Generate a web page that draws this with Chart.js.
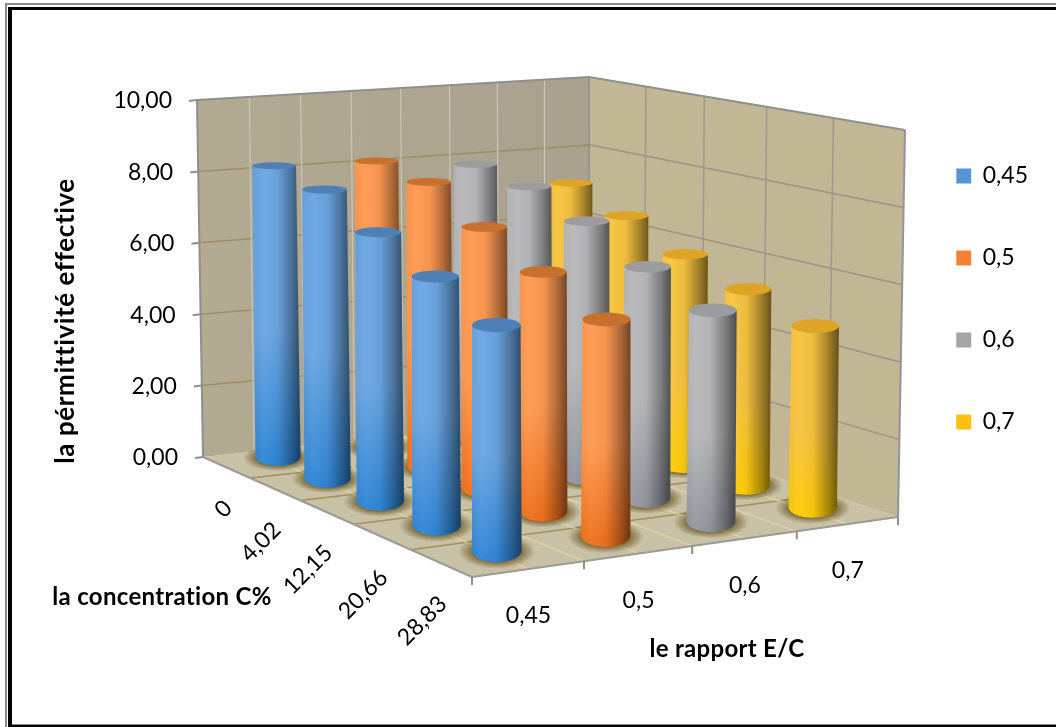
<!DOCTYPE html>
<html>
<head>
<meta charset="utf-8">
<title>pérmittivité effective</title>
<script src="https://cdn.jsdelivr.net/npm/chart.js@4"></script>
<style>
  body { margin: 0; background: #fff; }
  #wrap { position: absolute; left: 0; top: 0; width: 1056px; height: 727px; }
</style>
</head>
<body>
<div id="wrap"><canvas id="myChart" width="1056" height="727"></canvas></div>
<script>
const concentrations = ['0', '4,02', '12,15', '20,66', '28,83'];
const ratios = ['0,45', '0,5', '0,6', '0,7'];
const yTicks = ['0,00', '2,00', '4,00', '6,00', '8,00', '10,00'];

const ratio045 = [8.17, 7.92, 7.2, 6.5, 5.76];
const ratio05 = [8.1, 7.9, 7.08, 6.33, 5.58];
const ratio06 = [7.81, 7.55, 6.98, 6.18, 5.5];
const ratio07 = [7.07, 6.5, 5.82, 5.3, 4.78];

// body colours per series: upper part, lower part, top cap
const looks = [
  { up: '#6ba6e2', low: '#2f86d6', cap: '#4c80b6', legend: '#5595d6' },
  { up: '#ff9a52', low: '#f0701c', cap: '#c8702e', legend: '#f58232' },
  { up: '#b8b8ba', low: '#92969e', cap: '#9c9c9e', legend: '#a5a5a5' },
  { up: '#f8c440', low: '#ffcd05', cap: '#dfa426', legend: '#fdc010' }
];

// corners of the 3D box in canvas pixels
const floorBox = { left: [203, 457], back: [590, 417], right: [898, 517], front: [472, 577] };
const topBox = { left: [197, 100], back: [589, 77], right: [905, 130], front: [471, 175] };
const heights = {
  left: floorBox.left[1] - topBox.left[1],
  back: floorBox.back[1] - topBox.back[1],
  right: floorBox.right[1] - topBox.right[1],
  front: floorBox.front[1] - topBox.front[1]
};
// upright edges lean very slightly towards this point far below the chart
const vanish = [538, 20400];
// foreshortening along the E/C and C% directions
const skewU = 1.07;
const skewW = 0.85;

function warp(t, r) { return t * r / (t * r + 1 - t); }

// floor position, u along E/C (0 at the concentration axis), w along C% (0 at the back)
function onFloor(u, w) {
  const s = warp(u, skewU), t = warp(w, skewW);
  const { left, back, right, front } = floorBox;
  return [0, 1].map(k => left[k] * (1 - s) * (1 - t) + back[k] * s * (1 - t) +
    right[k] * s * t + front[k] * (1 - s) * t);
}

// point straight above a floor position, f = 0 on the floor, f = 1 at the top of the box
function above(u, w, f) {
  const p = onFloor(u, w);
  const s = warp(u, skewU), t = warp(w, skewW);
  const h = heights.left * (1 - s) * (1 - t) + heights.back * s * (1 - t) +
    heights.right * s * t + heights.front * (1 - s) * t;
  const dy = h * f;
  return [p[0] + dy * (p[0] - vanish[0]) / (vanish[1] - p[1]), p[1] - dy];
}

function line(ctx, p, q, color, width) {
  ctx.strokeStyle = color;
  ctx.lineWidth = width;
  ctx.beginPath();
  ctx.moveTo(p[0], p[1]);
  ctx.lineTo(q[0], q[1]);
  ctx.stroke();
}

function poly(ctx, pts, fill) {
  ctx.fillStyle = fill;
  ctx.beginPath();
  pts.forEach((p, i) => i ? ctx.lineTo(p[0], p[1]) : ctx.moveTo(p[0], p[1]));
  ctx.closePath();
  ctx.fill();
}

function heightFrac(y, v) {
  return (y.bottom - y.getPixelForValue(v)) / (y.bottom - y.top);
}

function drawWalls(chart) {
  const ctx = chart.ctx, y = chart.scales.y;
  const fl = floorBox, tp = topBox;

  const g = ctx.createLinearGradient(fl.left[0], 0, fl.back[0], 0);
  g.addColorStop(0, '#b3aa92');
  g.addColorStop(1, '#a9a18f');
  poly(ctx, [tp.left, tp.back, fl.back, fl.left], g);
  poly(ctx, [tp.back, tp.right, fl.right, fl.back], '#c1b794');
  poly(ctx, [fl.left, fl.back, fl.right, fl.front], '#c9c1a6');

  // wall gridlines
  y.ticks.forEach(t => {
    const f = heightFrac(y, t.value);
    if (f > 0 && f < 1) {
      line(ctx, above(0, 0, f), above(1, 0, f), '#a08c62', 1.5);
      line(ctx, above(1, 0, f), above(1, 1, f), '#a0908a', 1.5);
    }
  });
  for (let k = 1; k < 8; k++) {
    line(ctx, above(k / 8, 0, 0), above(k / 8, 0, 1), '#cbc6ba', 1.2);
  }
  for (let k = 1; k < 5; k++) {
    line(ctx, above(1, k / 5, 0), above(1, k / 5, 1), '#a3968c', 1.5);
  }

  // floor gridlines
  for (let k = 1; k < 5; k++) {
    line(ctx, onFloor(0, k / 5), onFloor(1, k / 5), '#a58f58', 1.5);
  }
  for (let k = 1; k < 8; k++) {
    line(ctx, onFloor(k / 8, 0), onFloor(k / 8, 1), '#e6d69c', 1.2);
  }

  // box edges
  line(ctx, tp.left, tp.back, '#8f8f8c', 2);
  line(ctx, tp.back, tp.right, '#8f8f8c', 2);
  line(ctx, tp.right, fl.right, '#93939a', 2);
  line(ctx, tp.left, fl.left, '#8f8f8c', 2);
  line(ctx, tp.back, fl.back, '#8f8f8c', 1.5);
  line(ctx, fl.left, fl.front, '#9a9a98', 2);
  line(ctx, fl.front, fl.right, '#9a9a98', 2);

  // axis tick marks
  y.ticks.forEach(t => {
    const p = above(0, 0, heightFrac(y, t.value));
    line(ctx, [p[0] - 8, p[1] + 1], p, '#8f8f8c', 2);
  });
  for (let k = 0; k <= 4; k++) {
    const p = onFloor(k / 4, 1);
    line(ctx, p, [p[0], p[1] + 8], '#8f8f8c', 2);
  }
}

// cylinder ellipses get rounder further down the canvas
function flatten(py) { return 0.00081 * (py + 35); }

function drawCylinder(chart, seriesIdx, catIdx, value) {
  const ctx = chart.ctx, y = chart.scales.y;
  const look = looks[seriesIdx];
  const u = (seriesIdx + 0.5) / ratios.length;
  const w = (catIdx + 0.5) / concentrations.length;
  const foot = onFloor(u, w);
  const base = [foot[0], foot[1] - 5];
  const f = heightFrac(y, value);
  const top = above(u, w, f);
  const cap = [top[0], top[1] - 3];
  const rb = 22.4 + 2.8 * w - 0.8 * u;
  const rc = rb * (1 - 0.04 * f);
  const ryb = rb * flatten(base[1]);
  const ryc = rc * flatten(cap[1]);

  // contact shadow
  ctx.save();
  ctx.translate(base[0], base[1] + 1);
  ctx.scale(1, ryb / rb * 0.95);
  const sh = ctx.createRadialGradient(0, 0, rb * 0.75, 0, 0, rb * 1.55);
  sh.addColorStop(0, 'rgba(96,74,18,0.95)');
  sh.addColorStop(1, 'rgba(96,74,18,0)');
  ctx.fillStyle = sh;
  ctx.beginPath();
  ctx.arc(0, 0, rb * 1.55, 0, Math.PI * 2);
  ctx.fill();
  ctx.restore();

  // body outline
  const shape = () => {
    ctx.beginPath();
    ctx.moveTo(cap[0] - rc, cap[1]);
    ctx.lineTo(base[0] - rb, base[1]);
    ctx.ellipse(base[0], base[1], rb, ryb, 0, Math.PI, 0, true);
    ctx.lineTo(cap[0] + rc, cap[1]);
    ctx.closePath();
  };
  let g = ctx.createLinearGradient(0, cap[1], 0, base[1] + ryb);
  g.addColorStop(0, look.up);
  g.addColorStop(0.55, look.up);
  g.addColorStop(1, look.low);
  ctx.fillStyle = g;
  shape();
  ctx.fill();

  // dark side on the right
  g = ctx.createLinearGradient(base[0] - rb, 0, base[0] + rb, 0);
  g.addColorStop(0, 'rgba(0,0,0,0.03)');
  g.addColorStop(0.2, 'rgba(255,255,255,0.03)');
  g.addColorStop(0.5, 'rgba(0,0,0,0.04)');
  g.addColorStop(0.8, 'rgba(0,0,0,0.32)');
  g.addColorStop(1, 'rgba(0,0,0,0.55)');
  ctx.fillStyle = g;
  shape();
  ctx.fill();

  // top cap
  ctx.fillStyle = look.cap;
  ctx.beginPath();
  ctx.ellipse(cap[0], cap[1], rc, ryc, 0, 0, Math.PI * 2);
  ctx.fill();
}

function drawLabels(chart) {
  const ctx = chart.ctx, y = chart.scales.y;
  ctx.save();
  ctx.fillStyle = '#000';
  ctx.font = '23px Lato';

  // value labels follow the slanted wall edge
  ctx.textAlign = 'right';
  ctx.textBaseline = 'middle';
  y.ticks.forEach((t, k) => {
    const p = above(0, 0, heightFrac(y, t.value));
    ctx.fillText(yTicks[k], p[0] - 25, p[1] + 1);
  });

  ratios.forEach((r, j) => {
    const p = onFloor((j + 0.5) / ratios.length, 1);
    ctx.textAlign = 'center';
    ctx.fillText(r, p[0], p[1] + 47);
  });

  concentrations.forEach((c, i) => {
    const p = onFloor(0, (i + 0.5) / concentrations.length);
    ctx.save();
    ctx.translate(p[0] + 2, p[1] + 37);
    ctx.rotate(-Math.PI / 4);
    ctx.textAlign = 'right';
    ctx.fillText(c, 0, 0);
    ctx.restore();
  });

  // letter spacing also switches off the tt and ti ligatures
  ctx.letterSpacing = '0.3px';
  ctx.font = 'bold 24px Lato';
  ctx.textAlign = 'center';
  ctx.fillText('la concentration C%', 162, 597);
  ctx.fillText('le rapport E/C', 727, 649);
  ctx.translate(66, 321);
  ctx.rotate(-Math.PI / 2);
  ctx.letterSpacing = '0.6px';
  ctx.font = 'bold 26px Lato';
  ctx.fillText('la pérmittivité effective', 0, 0);
  ctx.restore();
}

function drawFrame(ctx) {
  ctx.fillStyle = '#8a8a8a';
  ctx.fillRect(5, 3, 1051, 2);
  ctx.fillRect(5, 3, 2, 724);
  ctx.fillRect(12, 724, 1044, 1);
  ctx.fillStyle = '#000';
  ctx.fillRect(8, 7, 1048, 3);
  ctx.fillRect(8, 7, 4, 720);
  ctx.fillRect(8, 725, 1048, 2);
}

const scene = {
  id: 'scene',
  afterLayout(chart) {
    const lg = chart.legend;
    const shift = 299 - (lg.top + lg.bottom) / 2;
    lg.top += shift;
    lg.bottom += shift;
  },
  beforeDatasetsDraw(chart) {
    drawWalls(chart);
    // back rows first, and from the right hand side towards the left in each row
    concentrations.forEach((c, i) => {
      for (let j = ratios.length - 1; j >= 0; j--) {
        drawCylinder(chart, j, i, chart.data.datasets[j].data[i]);
      }
    });
    drawLabels(chart);
    drawFrame(chart.ctx);
    return false;
  }
};

new Chart(document.getElementById('myChart'), {
  type: 'bar',
  data: {
    labels: concentrations,
    datasets: [
      { label: ratios[0], data: ratio045, backgroundColor: looks[0].legend },
      { label: ratios[1], data: ratio05, backgroundColor: looks[1].legend },
      { label: ratios[2], data: ratio06, backgroundColor: looks[2].legend },
      { label: ratios[3], data: ratio07, backgroundColor: looks[3].legend }
    ]
  },
  options: {
    responsive: false,
    animation: false,
    layout: { padding: { left: 53, top: 100, bottom: 0, right: 18 } },
    plugins: {
      tooltip: { enabled: false },
      legend: {
        position: 'right',
        labels: {
          boxWidth: 15,
          boxHeight: 15,
          padding: 59,
          color: '#000',
          font: { family: 'Lato', size: 23 }
        }
      }
    },
    scales: {
      x: {
        ticks: { display: false },
        grid: { display: false },
        border: { display: false },
        afterFit(scale) { scale.height = 270; }
      },
      y: {
        min: 0,
        max: 10,
        ticks: { display: false, stepSize: 2 },
        grid: { display: false },
        border: { display: false },
        afterFit(scale) { scale.width = 144; }
      }
    }
  },
  plugins: [scene]
});
</script>
</body>
</html>
